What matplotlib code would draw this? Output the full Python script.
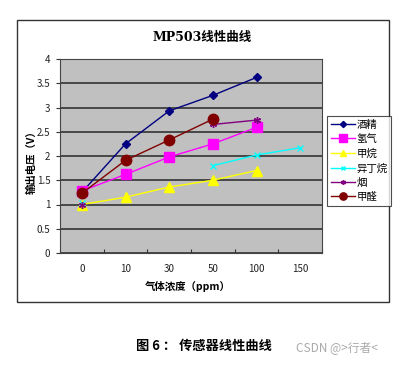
import numpy as np
import matplotlib
matplotlib.use("Agg")
import matplotlib.pyplot as plt
from matplotlib.patches import Rectangle

plt.rcParams['font.family'] = ['Noto Sans CJK SC', 'DejaVu Sans']

categories = ["0", "10", "30", "50", "100", "150"]
nan = np.nan
alcohol = [1.25, 2.25, 2.93, 3.25, 3.62, nan]
hydrogen = [1.28, 1.62, 1.98, 2.25, 2.59, nan]
methane = [1.00, 1.15, 1.36, 1.50, 1.70, nan]
isobutane = [1.03, nan, nan, 1.80, 2.02, 2.17]
smoke = [1.00, nan, nan, 2.65, 2.74, nan]
formaldehyde = [1.23, 1.91, 2.33, 2.76, nan, nan]
names = ["酒精", "氢气", "甲烷", "异丁烷", "烟", "甲醛"]
yticks = [0, 0.5, 1, 1.5, 2, 2.5, 3, 3.5, 4]

W, H = 399, 366
fig = plt.figure(figsize=(W / 100, H / 100), dpi=100)
fig.patch.set_facecolor('white')

def fx(px):
    return px / W

def fy(py):
    return 1 - py / H

# outer frame
fig.patches.append(Rectangle((fx(17), fy(302)), fx(389) - fx(17), fy(20) - fy(302),
                             transform=fig.transFigure, fill=False, edgecolor='#333333', lw=1.0))

ax = fig.add_axes([fx(60), fy(253), fx(322) - fx(60), fy(59) - fy(253)])
ax.set_facecolor('#C0C0C0')
x = np.arange(len(categories))

styles = [
    (alcohol, '#000080', 'D', 4.5),
    (hydrogen, '#FF00FF', 's', 7.5),
    (methane, '#FFFF00', '^', 7),
    (isobutane, '#00FFFF', 'x', 5),
    (smoke, '#800080', (6, 2, 0), 5),
    (formaldehyde, '#800000', 'o', 7.5),
]
for (vals, c, m, ms), name in zip(styles, names):
    ax.plot(x, vals, color=c, marker=m, markersize=ms, lw=1.0,
            markeredgecolor=c, markerfacecolor=c, label=name, zorder=3)

ax.set_xlim(-0.5, 5.5)
ax.set_ylim(0, 4)
ax.set_yticks(yticks)
ax.set_yticklabels([f"{v:g}" for v in yticks], fontsize=7, color='#222222')
ax.yaxis.grid(True, color='#333333', lw=1.2)
ax.set_axisbelow(True)
ax.set_xticks(np.arange(-0.5, 6.0, 1.0))
ax.set_xticklabels([])
ax.set_xticks(x, minor=True)
ax.set_xticklabels(categories, minor=True, fontsize=7, color='#222222')
ax.tick_params(axis='x', which='major', length=3, direction='in', color='#333333')
ax.tick_params(axis='x', which='minor', length=0, pad=8)
ax.tick_params(axis='y', length=3, direction='out', color='#333333', pad=4)
for s in ax.spines.values():
    s.set_color('#444444')
    s.set_linewidth(0.8)

fig.text(fx(202), fy(37), "MP503线性曲线", ha='center', va='center', fontsize=9, fontweight='bold', family=['DejaVu Serif', 'Noto Sans CJK SC'])
fig.text(fx(188), fy(286), "气体浓度（ppm）", ha='center', va='center', fontsize=7.5, fontweight='bold')
fig.text(fx(31), fy(160), "输出电压（V）", ha='center', va='center', rotation=90, fontsize=7.5, fontweight='bold')

leg = fig.legend(loc='upper left', bbox_to_anchor=(fx(327), fy(116)), fontsize=7.5,
                 frameon=True, fancybox=False, edgecolor='#222222', borderpad=0.35,
                 labelspacing=0.42, handlelength=2.3, handletextpad=0.2, borderaxespad=0,
                 markerscale=0.7)
leg.get_frame().set_linewidth(0.8)

fig.text(fx(204), fy(346), "图 6 ： 传感器线性曲线", ha='center', va='center', fontsize=9.5, fontweight='bold')
fig.text(fx(337), fy(348), "CSDN @>行者<", ha='center', va='center', fontsize=8.5, color='#aaaaaa')

fig.savefig("out.png", dpi=100)
